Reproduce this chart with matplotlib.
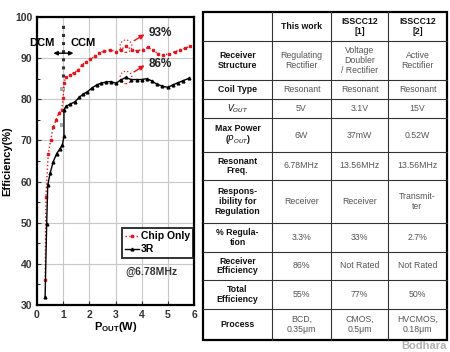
import matplotlib.pyplot as plt
from matplotlib.patches import Ellipse, Rectangle

# chip only (red) efficiency curve
chip_x = [0.31, 0.34, 0.43, 0.52, 0.62, 0.73, 0.83, 0.94, 1.0, 1.03, 1.1, 1.26, 1.41,
          1.58, 1.71, 1.87, 2.03, 2.22, 2.38, 2.57, 2.79, 3.02, 3.2, 3.4, 3.62, 3.81,
          4.04, 4.25, 4.42, 4.64, 4.83, 5.06, 5.27, 5.46, 5.66, 5.85]
chip_y = [36.0, 56.3, 66.8, 70.0, 73.2, 75.0, 76.6, 77.4, 80.2, 84.0, 85.3, 85.9, 86.5,
          87.1, 88.3, 89.1, 89.7, 90.5, 91.3, 91.7, 92.0, 91.6, 92.1, 92.9, 92.1, 91.8,
          92.1, 92.6, 92.0, 91.0, 90.8, 91.0, 91.6, 92.0, 92.4, 92.9]

# 3R (black) efficiency curve
r3_x = [0.31, 0.37, 0.41, 0.5, 0.62, 0.75, 0.88, 0.97, 1.03, 1.03, 1.11, 1.26, 1.45,
        1.62, 1.77, 1.92, 2.09, 2.28, 2.45, 2.64, 2.82, 3.02, 3.2, 3.4, 3.59, 3.81,
        4.0, 4.19, 4.38, 4.57, 4.79, 5.0, 5.19, 5.38, 5.57, 5.81]
r3_y = [32.0, 49.8, 59.1, 62.0, 64.8, 66.8, 68.0, 68.9, 71.0, 77.4, 78.3, 78.8, 79.4,
        80.5, 81.3, 81.8, 82.7, 83.5, 83.9, 84.2, 84.3, 83.9, 84.7, 85.3, 84.8, 84.8,
        84.8, 85.0, 84.5, 83.7, 83.2, 82.9, 83.5, 84.0, 84.5, 85.1]

# table contents
header = ["", "This work", "ISSCC12\n[1]", "ISSCC12\n[2]"]
row_names = ["Receiver\nStructure", "Coil Type", r"$\mathbf{\it{V_{OUT}}}$",
             "Max Power\n(" + r"$\mathbf{\it{P_{OUT}}}$" + ")", "Resonant\nFreq.",
             "Respons-\nibility for\nRegulation", "% Regula-\ntion",
             "Receiver\nEfficiency", "Total\nEfficiency", "Process"]
this_work = ["Regulating\nRectifier", "Resonant", "5V", "6W", "6.78MHz", "Receiver",
             "3.3%", "86%", "55%", "BCD,\n0.35\u03bcm"]
isscc1 = ["Voltage\nDoubler\n/ Rectifier", "Resonant", "3.1V", "37mW", "13.56MHz",
          "Receiver", "33%", "Not Rated", "77%", "CMOS,\n0.5\u03bcm"]
isscc2 = ["Active\nRectifier", "Resonant", "15V", "0.52W", "13.56MHz", "Transmit-\nter",
          "2.7%", "Not Rated", "50%", "HVCMOS,\n0.18\u03bcm"]

# table layout (pixels)
col_edges = [203, 272, 331, 388, 447]
row_edges = [12, 41, 80, 99, 118, 152, 180, 223, 252, 280, 309, 340]

W, H = 450, 352
fig = plt.figure(figsize=(4.5, 3.52), dpi=100)
plt.rcParams['font.family'] = ['Liberation Sans', 'DejaVu Sans']

ax = fig.add_axes([37 / W, 1 - 305 / H, 157 / W, 288 / H])
ax.plot(chip_x, chip_y, color='#e8141c', ls=':', lw=1.0, marker='s', ms=2.0,
        label='Chip Only', zorder=3)
ax.plot(r3_x, r3_y, color='black', ls='-', lw=1.0, marker='^', ms=2.0,
        label='3R', zorder=3)
ax.set_xlim(0, 6)
ax.set_ylim(30, 100)
ax.set_xticks(range(0, 7))
ax.set_yticks(range(30, 101, 10))
ax.set_yticks(range(35, 100, 10), minor=True)
ax.grid(True, color='#c8c8c8', lw=0.8)
ax.tick_params(labelsize=7.5, colors='#333333', length=3, width=0.8, direction='in')
ax.tick_params(which='minor', length=2, direction='in')
for lab in ax.get_xticklabels() + ax.get_yticklabels():
    lab.set_fontweight('bold')
for sp in ax.spines.values():
    sp.set_linewidth(1.6)
ax.set_ylabel('Efficiency(%)', fontsize=8, fontweight='bold', labelpad=2)
ax.set_xlabel(r'P$_{\mathregular{OUT}}$(W)', fontsize=8, fontweight='bold', labelpad=0)

# DCM / CCM boundary
ax.plot([1.0, 1.0], [85.3, 98.5], color='#333333', ls=':', lw=2.2, zorder=2)
ax.annotate('', xy=(0.52, 91.2), xytext=(1.5, 91.2),
            arrowprops=dict(arrowstyle='<|-|>', color='black', lw=1.0,
                            mutation_scale=6))
ax.text(0.2, 93.6, 'DCM', fontsize=8, fontweight='bold', ha='center', va='center')
ax.text(1.78, 93.6, 'CCM', fontsize=8, fontweight='bold', ha='center', va='center')
ax.text(0.97, 82.4, 'IIII', fontsize=4, color='#555555', ha='center', va='center')
ax.text(0.97, 73.7, 'IIII', fontsize=4, color='#555555', ha='center', va='center')

# peak callouts
for px, py, tx, ty, txt in [(3.4, 92.9, 4.2, 96.1, '93%'), (3.4, 85.3, 4.2, 88.6, '86%')]:
    ax.add_patch(Ellipse((px, py), 0.45, 3.0, fill=False, ec='#e8141c', ls=':', lw=0.9))
    ax.annotate('', xy=(tx, ty), xytext=(px + 0.22, py + 1.0),
                arrowprops=dict(arrowstyle='-|>', color='#e8141c', lw=1.0,
                                mutation_scale=7))
    ax.text(tx + 0.05, ty, txt, fontsize=8.5, fontweight='bold', color='#222222',
            ha='left', va='center')

leg = ax.legend(loc='upper left', bbox_to_anchor=(0.51, 0.285),
                frameon=True, fancybox=False, borderpad=0.3, handlelength=1.3,
                handletextpad=0.2, labelspacing=0.3, prop={'weight': 'bold', 'size': 7.5})
leg.get_frame().set_edgecolor('black')
leg.get_frame().set_linewidth(1.4)
ax.text(0.73, 0.115, '@6.78MHz', transform=ax.transAxes, fontsize=7.5,
        fontweight='bold', color='#333333', ha='center', va='center')

# table
tax = fig.add_axes([0, 0, 1, 1])
tax.set_xlim(0, W)
tax.set_ylim(H, 0)
tax.axis('off')
for x in col_edges[1:-1]:
    tax.plot([x, x], [row_edges[0], row_edges[-1]], color='#333333', lw=0.8)
for y in row_edges[1:-1]:
    tax.plot([col_edges[0], col_edges[-1]], [y, y], color='#333333', lw=0.8)
tax.add_patch(Rectangle((col_edges[0], row_edges[0]), col_edges[-1] - col_edges[0],
                        row_edges[-1] - row_edges[0], fill=False, ec='black', lw=1.6))

cols = [header] + [[row_names[i], this_work[i], isscc1[i], isscc2[i]]
                   for i in range(len(row_names))]
for r, row in enumerate(cols):
    yc = (row_edges[r] + row_edges[r + 1]) / 2
    for c, txt in enumerate(row):
        xc = (col_edges[c] + col_edges[c + 1]) / 2
        bold = (r == 0 or c == 0)
        tax.text(xc, yc, txt, fontsize=6.3, ha='center', va='center',
                 fontweight='bold' if bold else 'normal',
                 color='#111111' if bold else '#555555', linespacing=1.1)

tax.text(447, 346, 'Bodhara', fontsize=8, fontweight='bold', color='#b0b0b0',
         ha='right', va='center')

fig.savefig('out.png', dpi=100)
